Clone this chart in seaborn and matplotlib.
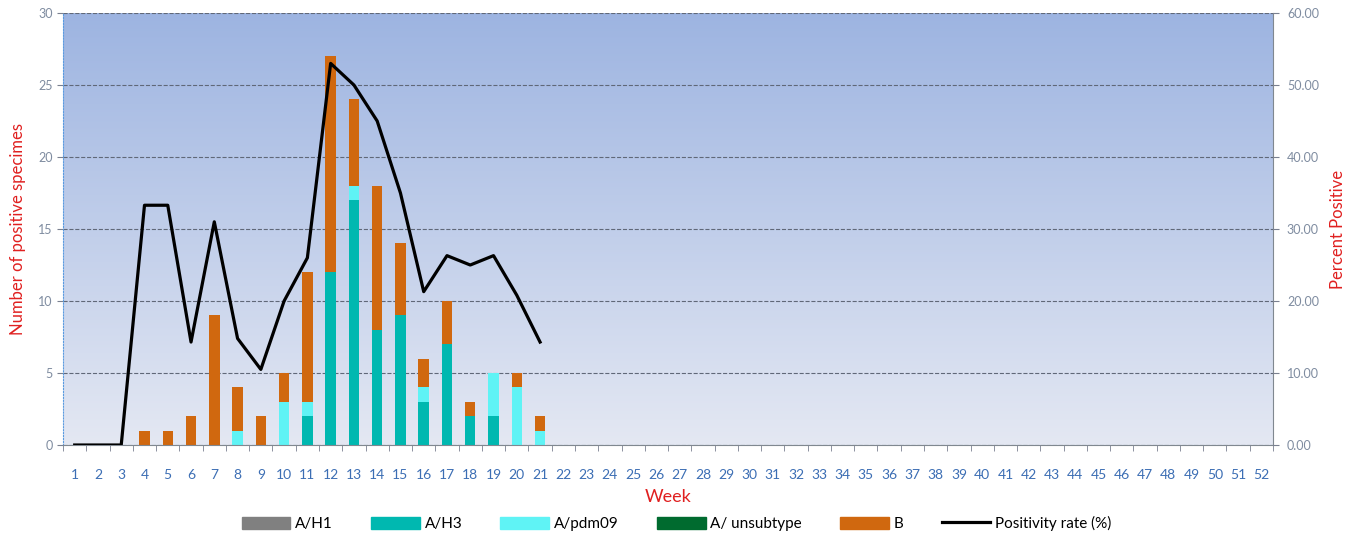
import numpy as np
import pandas as pd
import matplotlib
matplotlib.use('Agg')
import matplotlib.pyplot as plt
import seaborn as sns

# data
weeks = list(range(1, 53))
a_h1 = [0] * 21
a_h3 = [0, 0, 0, 0, 0, 0, 0, 0, 0, 0, 2, 12, 17, 8, 9, 3, 7, 2, 2, 0, 0]
a_pdm09 = [0, 0, 0, 0, 0, 0, 0, 1, 0, 3, 1, 0, 1, 0, 0, 1, 0, 0, 3, 4, 1]
a_unsub = [0] * 21
b_flu = [0, 0, 0, 1, 1, 2, 9, 3, 2, 2, 9, 15, 6, 10, 5, 2, 3, 1, 0, 1, 1]
positivity = [0, 0, 0, 33.3, 33.3, 14.3, 31.0, 14.8, 10.5, 20.0, 26.0,
              53.0, 50.0, 45.0, 35.0, 21.3, 26.3, 25.0, 26.3, 20.8, 14.3]

n = len(a_h3)
df = pd.DataFrame({'week': [str(w) for w in weeks[:n]],
                   'h1': a_h1, 'h3': a_h3, 'pdm': a_pdm09,
                   'uns': a_unsub, 'b': b_flu, 'pos': positivity})
df['c1'] = df['h1']
df['c2'] = df['c1'] + df['h3']
df['c3'] = df['c2'] + df['pdm']
df['c4'] = df['c3'] + df['uns']
df['c5'] = df['c4'] + df['b']
order = [str(w) for w in weeks]

colors = {'A/H1': '#808080', 'A/H3': '#00b8b0', 'A/pdm09': '#5ff3f5',
          'A/ unsubtype': '#006b2f', 'B': '#d0680f'}

plt.rcParams['font.family'] = ['Lato', 'DejaVu Sans']
fig = plt.figure(figsize=(13.53, 5.37), dpi=100)
ax = fig.add_axes([0.0466, 0.1713, 0.8943, 0.8045])

# gradient background
grad = np.linspace(0, 1, 256).reshape(-1, 1)
top = np.array([157, 180, 225]) / 255
bot = np.array([228, 232, 243]) / 255
img = bot + (top - bot) * grad[:, :, None]
ax.imshow(img, extent=[-0.5, 51.5, 0, 30], origin='lower', aspect='auto', zorder=0)

# stacked bars: draw cumulative totals from top down
for col, name in [('c5', 'B'), ('c4', 'A/ unsubtype'), ('c3', 'A/pdm09'),
                  ('c2', 'A/H3'), ('c1', 'A/H1')]:
    sns.barplot(data=df, x='week', y=col, order=order, color=colors[name],
                width=0.45, saturation=1, ax=ax, zorder=2, label=name)

ax.set_xlim(-0.5, 51.5)
ax.set_ylim(0, 30)
ax.set_yticks(range(0, 31, 5))
ax.yaxis.grid(True, linestyle='--', color='#606878', linewidth=0.8)
for gl in ax.get_ygridlines():
    gl.set_zorder(1)
ax.set_xticks(range(52))
ax.set_xticklabels(order)
ax.set_xticks(np.arange(-0.5, 52, 1), minor=True)
ax.tick_params(axis='x', which='major', length=0, labelsize=10, colors='#3c6eb4', pad=17)
ax.tick_params(axis='x', which='minor', length=4, color='#7a8090', direction='out')
ax.tick_params(axis='y', length=4, color='#7a8090', labelsize=9, labelcolor='#7f8ca0')
ax.set_xlabel('Week', color='#e02020', fontsize=13, labelpad=6)
ax.set_ylabel('Number of positive specimes', color='#e02020', fontsize=12, labelpad=9)
ax.spines['top'].set_visible(False)
ax.spines['left'].set_color('#5a9be0')
ax.spines['left'].set_linestyle(':')
ax.spines['right'].set_color('#808890')
ax.spines['bottom'].set_color('#808890')

ax2 = ax.twinx()
sns.lineplot(x=np.arange(n), y=df['pos'], color='black', linewidth=2.3, ax=ax2,
             label='Positivity rate (%)', legend=False, zorder=3)
ax2.set_ylim(0, 60)
ax2.set_yticks(range(0, 61, 10))
ax2.set_yticklabels([f'{v:.2f}' for v in range(0, 61, 10)])
ax2.tick_params(axis='y', length=4, color='#7a8090', labelsize=9, labelcolor='#7f8ca0', pad=6)
ax2.set_ylabel('Percent Positive', color='#e02020', fontsize=12, labelpad=8)
for s in ax2.spines.values():
    s.set_visible(False)
ax2.set_xlim(-0.5, 51.5)

handles = [plt.Rectangle((0, 0), 1, 1, color=colors[k]) for k in colors]
handles.append(plt.Line2D([0], [0], color='black', linewidth=2.3))
labels = list(colors) + ['Positivity rate (%)']
if ax.get_legend():
    ax.get_legend().remove()
fig.legend(handles, labels, loc='lower center', ncol=6, frameon=False,
           bbox_to_anchor=(0.5, -0.015), fontsize=11, handlelength=3.2,
           handleheight=0.9, columnspacing=2.5, handletextpad=0.3)

plt.savefig('out.png', dpi=100)
plt.close()
